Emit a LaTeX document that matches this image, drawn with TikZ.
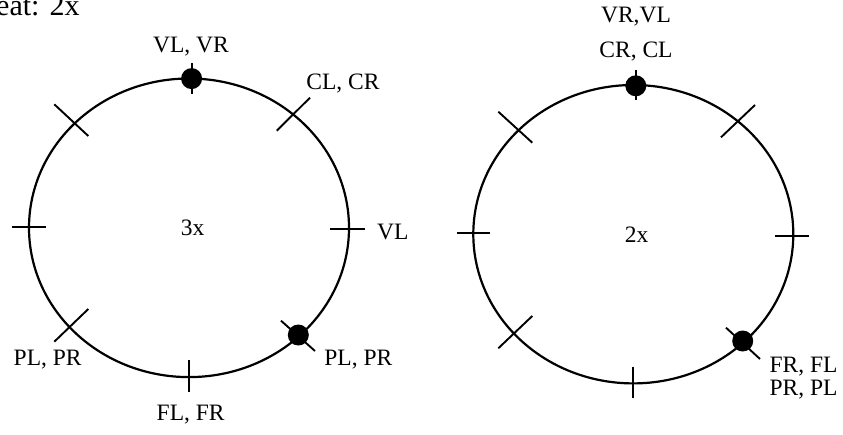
\documentclass[tikz,border=0pt]{standalone}
\usepackage{fontspec}
\setmainfont{Liberation Serif}
\begin{document}
\begin{tikzpicture}[x=1pt,y=-1pt,
  ring/.style={line width=2.2pt},
  tickline/.style={line width=1.9pt},
  dotmark/.style={fill=black},
  lbl/.style={font=\fontsize{23.5}{27}\selectfont, inner sep=0pt, align=center},
  toplbl/.style={font=\fontsize{30}{34}\selectfont, inner sep=0pt}]
\useasboundingbox (0,0) rectangle (843,434);
% title (cropped at the top edge, as in the reference)
\node[toplbl, anchor=base west] (title) at (-4,15) {eat: 2x};
% ---------- left ring ----------
\draw[ring] (189,227.8) ellipse [x radius=160, y radius=149.3];
\draw[tickline] (191.6,63) -- (191.6,94);
\draw[tickline] (12.3,226.7) -- (46,226.7);
\draw[tickline] (330,228.7) -- (365,228.7);
\draw[tickline] (189,360) -- (189,391.7);
\draw[tickline] (54.3,104.3) -- (88.3,136);
\draw[tickline] (310,97.7) -- (276.7,130.7);
\draw[tickline] (88.3,309) -- (54.3,341.7);
\draw[tickline] (281,320.7) -- (315,351);
\fill[dotmark] (191.6,78.6) circle [radius=10.5];
\fill[dotmark] (298.3,335) circle [radius=10.5];
\node[lbl] (l3x) at (192.7,227.7) {3x};
\node[lbl] (ltop) at (191,46.7) {VL, VR};
\node[lbl] (lur) at (343,84) {CL, CR};
\node[lbl] (lr) at (392.7,232) {VL};
\node[lbl] (lll) at (47.7,359.3) {PL, PR};
\node[lbl] (llr) at (358.3,359.3) {PL, PR};
\node[lbl] (lb) at (190.7,415) {FL, FR};
% ---------- right ring ----------
\draw[ring] (633.3,234.2) ellipse [x radius=160, y radius=149.2];
\draw[tickline] (635.7,70) -- (635.7,100);
\draw[tickline] (456.7,233.3) -- (490,233.3);
\draw[tickline] (775,235.7) -- (809,235.7);
\draw[tickline] (633.3,366.7) -- (633.3,398.3);
\draw[tickline] (498.3,111.7) -- (532.3,142.7);
\draw[tickline] (755,105) -- (721,137.3);
\draw[tickline] (532.3,316) -- (498.3,348.3);
\draw[tickline] (726,327.7) -- (760,359);
\fill[dotmark] (635.8,85.8) circle [radius=10.5];
\fill[dotmark] (742.7,341) circle [radius=10.5];
\node[lbl] (r2x) at (636.7,235) {2x};
\node[lbl] (rtop1) at (636,16.7) {VR,VL};
\node[lbl] (rtop2) at (636,51.7) {CR, CL};
\node[lbl, anchor=west] (rlr1) at (769.3,366.7) {FR, FL};
\node[lbl, anchor=west] (rlr2) at (769.3,390) {PR, PL};
\end{tikzpicture}
\end{document}
